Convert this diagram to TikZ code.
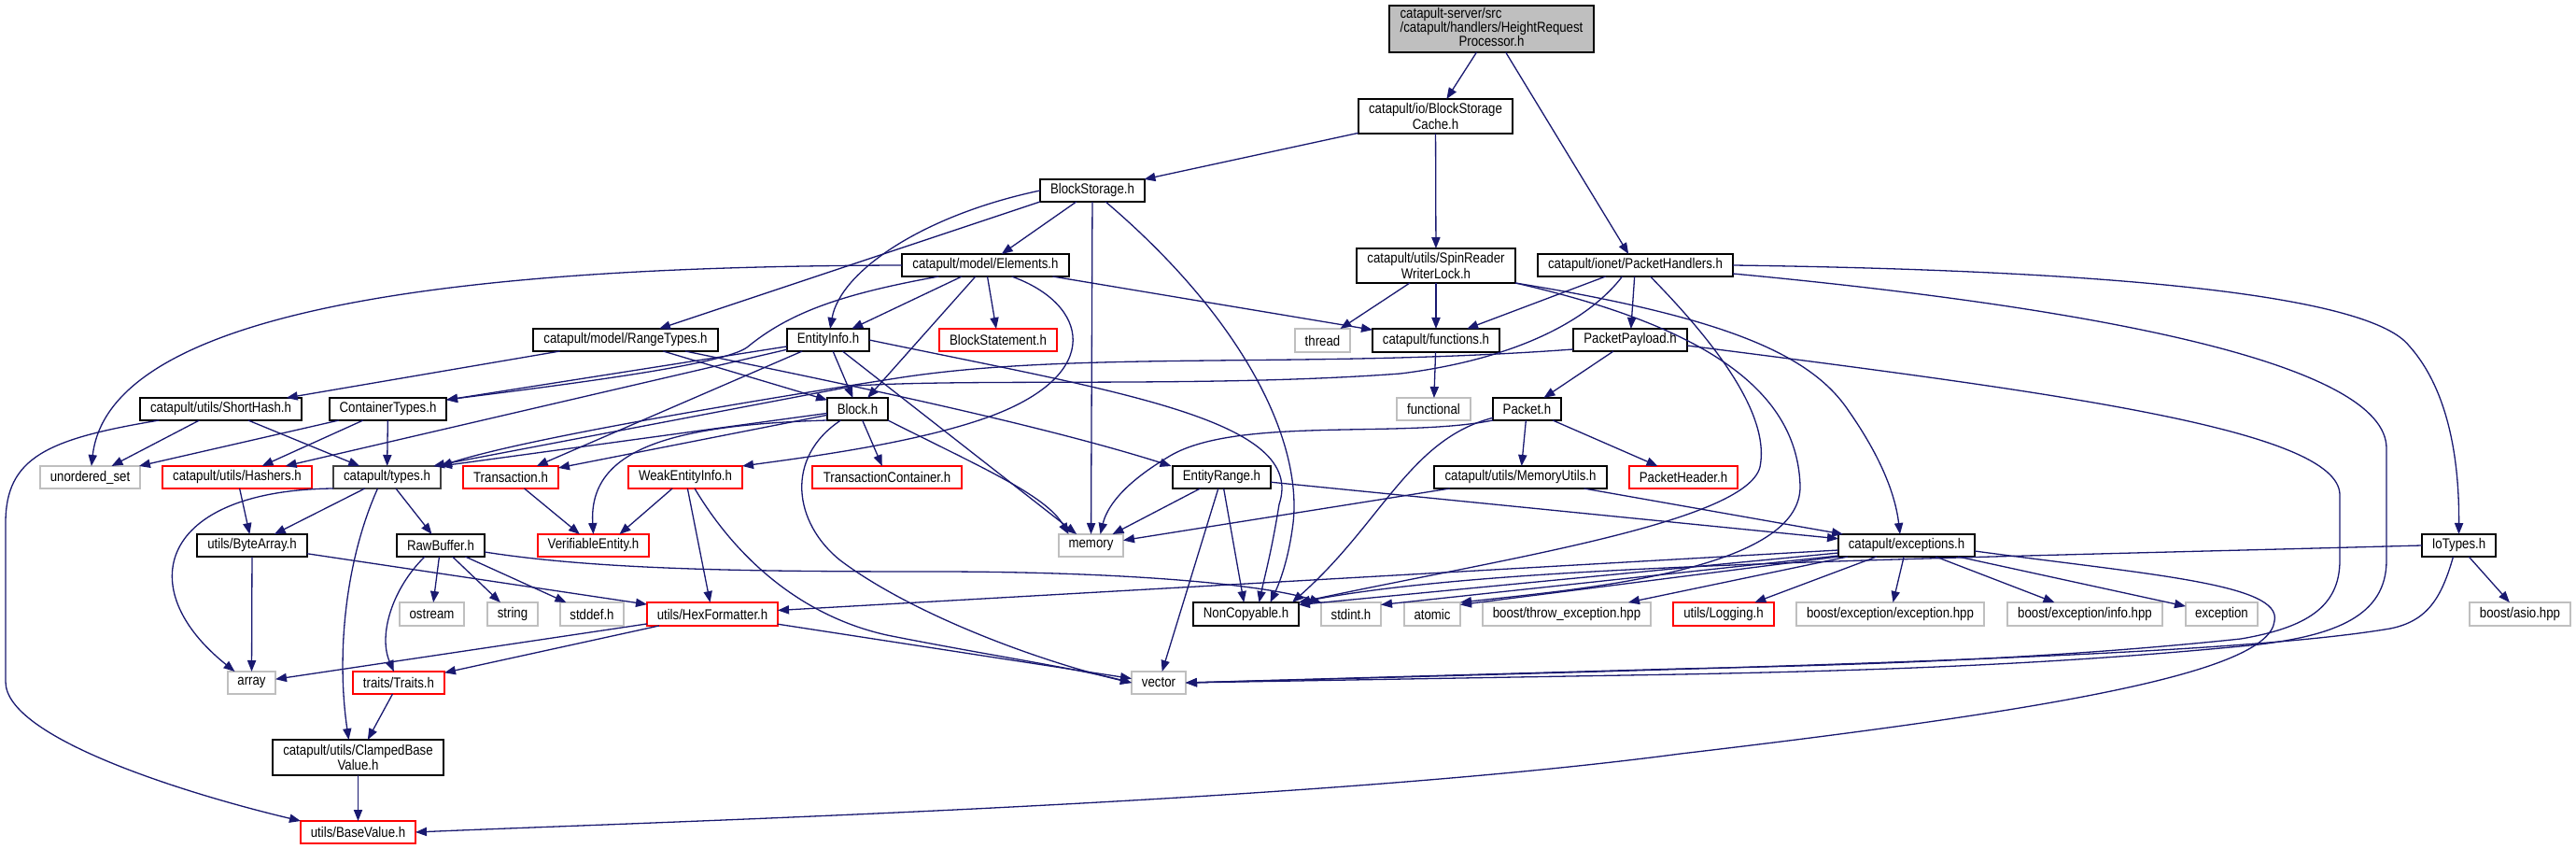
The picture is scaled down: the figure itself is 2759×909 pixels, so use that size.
\documentclass[tikz,border=0pt]{standalone}
\usepackage{fontspec}
\setmainfont{Liberation Sans}[FakeStretch=0.86]
\usetikzlibrary{arrows.meta}
\definecolor{edgec}{HTML}{191970}
\definecolor{greyb}{HTML}{BFBFBF}
\tikzset{
 nbox/.style={draw=black, fill=white, line width=0.75pt, inner sep=0pt, outer sep=0pt, font=\fontsize{7.7}{6.65}\selectfont, align=center, text=black},
 gbox/.style={nbox, draw=greyb},
 rbox/.style={nbox, draw=red},
 rootbox/.style={nbox, fill=greyb},
 edge/.style={draw=edgec, line width=0.65pt, -{Triangle[length=6pt,width=4.6pt]}},
}
\newcommand{\mk}[7]{\node[#6, minimum width={(#4-#2)*0.5pt}, minimum height={(#5-#3)*0.5pt}] (#1) at ({(#2+#4)/2},{(#3+#5)/2}) {#7};}
\begin{document}
\begin{tikzpicture}[x=0.5pt,y=-0.5pt]
\useasboundingbox (0,0) rectangle (2759,909);
\fill[white] (0,0) rectangle (2759,909);
% nodes
\mk{root}{1488}{6}{1707}{56}{rootbox}{\begin{tabular}{@{}l@{}}catapult-server/src\\/catapult/handlers/HeightRequest\\\multicolumn{1}{@{}c@{}}{Processor.h}\end{tabular}}
\mk{bsc}{1455}{106}{1620}{143}{nbox}{catapult/io/BlockStorage\\Cache.h}
\mk{bs}{1114}{192}{1226}{216}{nbox}{BlockStorage.h}
\mk{elem}{966}{272}{1145}{296}{nbox}{catapult/model/Elements.h}
\mk{spin}{1453}{266}{1623}{303}{nbox}{catapult/utils/SpinReader\\WriterLock.h}
\mk{ph}{1647}{272}{1856}{296}{nbox}{catapult/ionet/PacketHandlers.h}
\mk{rt}{571}{352}{769}{376}{nbox}{catapult/model/RangeTypes.h}
\mk{ei}{843}{352}{931}{376}{nbox}{EntityInfo.h}
\mk{bst}{1006}{352}{1132}{376}{rbox}{BlockStatement.h}
\mk{thread}{1387}{352}{1446}{377}{gbox}{thread}
\mk{fn}{1470}{352}{1606}{377}{nbox}{catapult/functions.h}
\mk{pp}{1685}{352}{1807}{376}{nbox}{PacketPayload.h}
\mk{sh}{150}{426}{323}{450}{nbox}{catapult/utils/ShortHash.h}
\mk{ct}{353}{426}{478}{450}{nbox}{ContainerTypes.h}
\mk{blk}{886}{426}{951}{450}{nbox}{Block.h}
\mk{func}{1496}{426}{1575}{450}{gbox}{functional}
\mk{pkt}{1599}{426}{1672}{450}{nbox}{Packet.h}
\mk{uset}{43}{499}{150}{523}{gbox}{unordered\_set}
\mk{hash}{174}{499}{334}{523}{rbox}{catapult/utils/Hashers.h}
\mk{types}{357}{499}{472}{523}{nbox, draw=black!75}{catapult/types.h}
\mk{trans}{496}{499}{598}{523}{rbox}{Transaction.h}
\mk{wei}{673}{499}{795}{523}{rbox}{WeakEntityInfo.h}
\mk{tc}{870}{499}{1030}{523}{rbox}{TransactionContainer.h}
\mk{er}{1256}{499}{1361}{523}{nbox}{EntityRange.h}
\mk{mu}{1536}{499}{1721}{523}{nbox}{catapult/utils/MemoryUtils.h}
\mk{phd}{1745}{499}{1861}{523}{rbox}{PacketHeader.h}
\mk{ba}{211}{572}{329}{596}{nbox}{utils/ByteArray.h}
\mk{rb}{425}{572}{519}{596}{nbox}{RawBuffer.h}
\mk{ve}{576}{572}{695}{596}{rbox}{VerifiableEntity.h}
\mk{mem}{1134}{572}{1203}{596}{gbox}{memory}
\mk{exc}{1969}{572}{2115}{596}{nbox}{catapult/exceptions.h}
\mk{io}{2594}{572}{2673}{596}{nbox}{IoTypes.h}
\mk{ostream}{428}{645}{497}{670}{gbox}{ostream}
\mk{string}{522}{645}{576}{670}{gbox}{string}
\mk{stddef}{600}{645}{668}{670}{gbox}{stddef.h}
\mk{hex}{693}{645}{833}{670}{rbox}{utils/HexFormatter.h}
\mk{nc}{1278}{645}{1391}{670}{nbox}{NonCopyable.h}
\mk{stdint}{1415}{645}{1479}{670}{gbox}{stdint.h}
\mk{atomic}{1504}{645}{1564}{670}{gbox}{atomic}
\mk{bte}{1588}{645}{1768}{670}{gbox}{boost/throw\_exception.hpp}
\mk{log}{1792}{645}{1900}{670}{rbox}{utils/Logging.h}
\mk{bee}{1924}{645}{2125}{670}{gbox}{boost/exception/exception.hpp}
\mk{bei}{2150}{645}{2316}{670}{gbox}{boost/exception/info.hpp}
\mk{exception}{2341}{645}{2418}{670}{gbox}{exception}
\mk{asio}{2645}{645}{2753}{670}{gbox}{boost/asio.hpp}
\mk{array}{244}{719}{295}{743}{gbox}{array}
\mk{traits}{378}{719}{476}{743}{rbox}{traits/Traits.h}
\mk{vector}{1212}{719}{1270}{743}{gbox}{vector}
\mk{clamp}{292}{792}{475}{830}{nbox}{catapult/utils/ClampedBase\\Value.h}
\mk{bv}{322}{879}{445}{903}{rbox}{utils/BaseValue.h}
% edges
\draw[edge] (root) -- (bsc);
\draw[edge] (root) -- (ph);
\draw[edge] (bsc) -- (bs);
\draw[edge] (bsc) -- (spin);
\draw[edge] (bs) -- (elem);
\draw[edge] (bs.south west) -- (rt);
\draw[edge] (bs.west) .. controls (990,230) and (900,290) .. (ei);
\draw[edge] (bs) -- (mem);
\draw[edge] (bs) .. controls (1330,340) and (1395,470) .. (1385,560) .. controls (1380,600) and (1370,625) .. ([xshift=13pt]nc.north);
\draw[edge] (elem.west) .. controls (600,285) and (120,310) .. (uset);
\draw[edge] ([xshift=-25pt]elem.south) .. controls (900,315) and (845,335) .. (800,372) .. controls (775,390) and (620,410) .. ([yshift=5pt]ct.east);
\draw[edge] (elem) -- (ei);
\draw[edge] (elem) -- (blk);
\draw[edge] (elem) -- (bst);
\draw[edge] ([xshift=14pt]elem.south) .. controls (1165,325) and (1185,400) .. (1060,446) .. controls (980,475) and (860,490) .. (wei.north east);
\draw[edge] (elem) -- (fn);
\draw[edge] (spin) -- (thread);
\draw[edge] (spin) -- (fn);
\draw[edge] (spin.south east) .. controls (1850,340) and (1940,380) .. (1980,440) .. controls (2015,490) and (2030,530) .. ([xshift=-3.5pt]exc.north);
\draw[edge] (spin.south east) .. controls (1830,350) and (1925,420) .. (1928,520) .. controls (1930,610) and (1700,630) .. (atomic.north east);
\draw[edge] (ph) -- (fn);
\draw[edge] (ph) -- (pp);
\draw[edge] (ph.east) .. controls (2300,290) and (2540,320) .. (2580,370) .. controls (2625,420) and (2634,500) .. (io.north);
\draw[edge] ([yshift=-4.5pt]ph.east) .. controls (2250,330) and (2556,390) .. (2556,480) -- (2556,600) .. controls (2556,660) and (2500,680) .. (2420,690) .. controls (2200,712) and (2000,718) .. (1800,722) -- (vector.east);
\draw[edge] ([yshift=-3pt]pp.east) .. controls (2200,420) and (2506,460) .. (2506,530) -- (2506,600) .. controls (2506,650) and (2470,672) .. (2400,684) .. controls (2200,705) and (2000,712) .. (1800,716) -- (vector.east);
\draw[edge] ([xshift=-3pt]io.south) .. controls (2615,640) and (2600,665) .. (2560,673) .. controls (2400,700) and (2000,712) .. (vector.east);
\draw[edge] (io) -- (asio);
\draw[edge] (io.west) .. controls (2000,600) and (1600,605) .. (nc.north east);
\draw[edge] ([xshift=8pt]ph.south) .. controls (1850,380) and (1895,450) .. (1885,500) .. controls (1870,560) and (1600,600) .. (nc.north east);
\draw[edge] ([xshift=-7pt]ph.south) .. controls (1700,345) and (1620,385) .. (1500,400) .. controls (1300,415) and (1050,405) .. (916,413) -- ([xshift=-4pt]types.north east);
\draw[edge] ([yshift=-5pt]pp.west) .. controls (1400,395) and (1150,375) .. (960,405) .. controls (800,430) and (560,470) .. (types.north east);
\draw[edge] (pp) -- (pkt);
\draw[edge] (pkt.south west) .. controls (1500,470) and (1320,445) .. (1250,490) .. controls (1200,520) and (1185,545) .. ([xshift=5pt]mem.north);
\draw[edge] (pkt) .. controls (1510,470) and (1480,560) .. ([xshift=-3.5pt]nc.north east);
\draw[edge] (pkt) -- (mu);
\draw[edge] (pkt) -- (phd);
\draw[edge] (mu) -- (mem);
\draw[edge] (mu) -- (exc);
\draw[edge] (er) -- (exc);
\draw[edge] (er) -- (mem);
\draw[edge] (er) -- (nc);
\draw[edge] (er) -- (vector);
\draw[edge] (rt) -- (sh);
\draw[edge] (rt) -- (blk);
\draw[edge] ([xshift=32pt]rt.south) .. controls (850,400) and (1100,450) .. ([xshift=-27pt]er.north);
\draw[edge] (ei) -- (ct);
\draw[edge] (ei) -- (hash);
\draw[edge] (ei) -- (trans);
\draw[edge] (ei) -- (blk);
\draw[edge] (ei) -- (mem);
\draw[edge] (ei.east) .. controls (1200,420) and (1400,450) .. (1370,540) .. controls (1362,590) and (1355,615) .. ([xshift=7pt]nc.north);
\draw[edge] (blk) -- (types.north east);
\draw[edge] (blk) -- ([yshift=5pt]trans.east);
\draw[edge] (blk.south west) .. controls (720,455) and (630,480) .. (ve.north);
\draw[edge] (blk) -- (tc);
\draw[edge] (blk.south east) .. controls (1050,500) and (1120,530) .. ([xshift=-12pt]mem.north);
\draw[edge] ([xshift=-9pt]blk.south) .. controls (840,490) and (850,560) .. (900,600) .. controls (980,660) and (1120,710) .. (vector.west);
\draw[edge] (wei) -- ([xshift=14pt]ve.north);
\draw[edge] (wei) -- (hex);
\draw[edge] ([xshift=5pt]wei.south) .. controls (790,600) and (860,660) .. (950,680) .. controls (1050,700) and (1150,715) .. (vector.west);
\draw[edge] (trans) -- (ve);
\draw[edge] (sh) -- (uset);
\draw[edge] (sh) -- (types);
\draw[edge] ([xshift=-33pt]sh.south) .. controls (50,470) and (6,490) .. (6,560) -- (6,730) .. controls (6,790) and (200,850) .. (bv.north west);
\draw[edge] (ct) -- (uset);
\draw[edge] (ct) -- (hash);
\draw[edge] (ct) -- (types);
\draw[edge] (hash) -- (ba);
\draw[edge] (types) -- (ba);
\draw[edge] (types) -- (rb);
\draw[edge] (types.south west) .. controls (170,525) and (140,630) .. ([xshift=-9pt]array.north);
\draw[edge] ([xshift=-5pt]types.south) .. controls (370,600) and (360,700) .. ([xshift=-5pt]clamp.north);
\draw[edge] (ba) -- (array);
\draw[edge] (ba) -- (hex);
\draw[edge] (rb) -- (ostream);
\draw[edge] (rb) -- (string);
\draw[edge] (rb) -- (stddef);
\draw[edge] ([xshift=-8.5pt]rb.south) .. controls (420,630) and (405,680) .. (traits);
\draw[edge] ([yshift=-3.5pt]rb.east) .. controls (640,610) and (800,612) .. (1000,612) .. controls (1200,612) and (1350,625) .. (stdint.north west);
\draw[edge] (hex) -- (array);
\draw[edge] (hex) -- (traits);
\draw[edge] (hex) -- (vector);
\draw[edge] (traits) -- (clamp);
\draw[edge] (clamp) -- (bv);
\draw[edge] (fn) -- (func);
\draw[edge] ([yshift=-3pt]exc.east) .. controls (2300,615) and (2445,625) .. (2436,665) .. controls (2430,720) and (2200,760) .. (1800,807) .. controls (1400,860) and (700,880) .. (bv.east);
\draw[edge] (exc) -- (log);
\draw[edge] (exc) -- (bee);
\draw[edge] (exc) -- (bei);
\draw[edge] (exc) -- (exception);
\draw[edge] ([yshift=-2.5pt]exc.west) -- ([yshift=2pt]hex.east);
\draw[edge] ([yshift=-4pt]exc.west) -- ([yshift=5pt]nc.east);
\draw[edge] ([yshift=-5.5pt]exc.west) -- ([yshift=5pt]stdint.east);
\draw[edge] (exc.south west) -- ([yshift=5pt]atomic.east);
\draw[edge] ([xshift=5pt]exc.south west) -- ([xshift=-12pt]bte.north east);
\end{tikzpicture}
\end{document}
